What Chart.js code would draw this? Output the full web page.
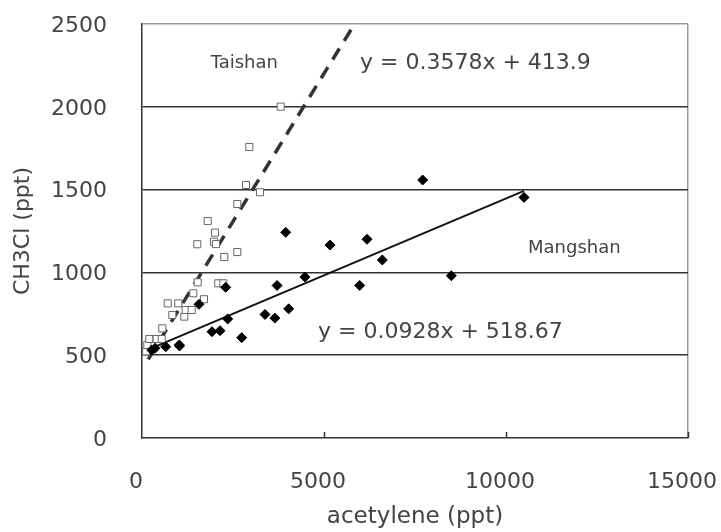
<!DOCTYPE html>
<html>
<head>
<meta charset="utf-8">
<script src="https://cdn.jsdelivr.net/npm/chart.js@4.4.1/dist/chart.umd.min.js"></script>
<style>
  body { margin: 0; background: #fff; }
  #wrap { width: 721px; height: 532px; }
</style>
</head>
<body>
<div id="wrap"><canvas id="chart" width="721" height="532"></canvas></div>
<script>
// Taishan (open squares)
const taishanX = [115, 146, 201, 403, 541, 558, 706, 833, 997, 1162, 1200, 1365, 1409, 1519, 1530, 1703, 1805, 1978, 2005, 2033, 2096, 2234, 2261, 2618, 2618, 2857, 2948, 3242, 3810];
const taishanY = [523, 562, 598, 598, 598, 662, 813, 743, 813, 733, 773, 773, 874, 1170, 940, 838, 1310, 1185, 1240, 1171, 934, 934, 1093, 1123, 1413, 1528, 1757, 1484, 2001];

// Mangshan (filled diamonds)
const mangshanX = [266, 357, 651, 1025, 1030, 1566, 1923, 2143, 2299, 2354, 2739, 3379, 3650, 3710, 3947, 4030, 4475, 5165, 5980, 6181, 6602, 7711, 8498, 10495];
const mangshanY = [531, 542, 551, 562, 556, 807, 642, 648, 910, 719, 606, 746, 724, 921, 1242, 780, 972, 1165, 921, 1200, 1075, 1558, 980, 1453];

// trend line ends (the dashed one runs past the top)
const taishanTrendX = [170, 5950];
const taishanTrendY = [475, 2540];
const mangshanTrendX = [266, 10495];
const mangshanTrendY = [543, 1492];

const xTicks = [0, 5000, 10000, 15000];
const yTicks = [0, 500, 1000, 1500, 2000, 2500];

const notes = [
  { text: 'Taishan', x: 1887, y: 2264, size: 18 },
  { text: 'y = 0.3578x + 413.9', x: 5989, y: 2264, size: 22 },
  { text: 'Mangshan', x: 10604, y: 1147, size: 18 },
  { text: 'y = 0.0928x + 518.67', x: 4835, y: 640, size: 22 }
];

const FONT = "'DejaVu Sans', sans-serif";
const TEXT = '#444';

const pts = (xs, ys) => xs.map((x, i) => ({ x: x, y: ys[i] }));

// small inward tick marks on the x axis + text notes
const extras = {
  id: 'extras',
  afterDraw(chart) {
    const { ctx, scales: { x, y } } = chart;
    ctx.save();
    ctx.strokeStyle = '#333';
    ctx.lineWidth = 1.5;
    xTicks.slice(1).forEach(v => {
      const px = Math.round(x.getPixelForValue(v)) + 0.5;
      ctx.beginPath();
      ctx.moveTo(px, y.bottom);
      ctx.lineTo(px, y.bottom - 6);
      ctx.stroke();
    });
    ctx.fillStyle = TEXT;
    ctx.textBaseline = 'middle';
    ctx.textAlign = 'left';
    notes.forEach(n => {
      ctx.font = n.size + 'px ' + FONT;
      ctx.fillText(n.text, x.getPixelForValue(n.x), y.getPixelForValue(n.y));
    });
    ctx.restore();
  }
};

new Chart(document.getElementById('chart'), {
  type: 'scatter',
  data: {
    datasets: [
      {
        label: 'Taishan trend',
        data: pts(taishanTrendX, taishanTrendY),
        showLine: true,
        borderColor: '#333',
        borderWidth: 3.5,
        borderDash: [13, 9],
        pointRadius: 0,
        order: 3
      },
      {
        label: 'Mangshan trend',
        data: pts(mangshanTrendX, mangshanTrendY),
        showLine: true,
        borderColor: '#111',
        borderWidth: 2,
        pointRadius: 0,
        order: 4
      },
      {
        label: 'Taishan',
        data: pts(taishanX, taishanY),
        pointStyle: 'rect',
        pointRadius: 5,
        borderColor: '#666',
        borderWidth: 1,
        backgroundColor: '#fff',
        order: 2
      },
      {
        label: 'Mangshan',
        data: pts(mangshanX, mangshanY),
        pointStyle: 'rectRot',
        pointRadius: 5,
        borderColor: '#000',
        borderWidth: 1,
        backgroundColor: '#000',
        order: 1
      }
    ]
  },
  options: {
    responsive: false,
    animation: false,
    events: [],
    layout: { padding: { left: 0, top: 24, right: 33, bottom: 0 } },
    plugins: {
      legend: { display: false },
      tooltip: { enabled: false }
    },
    scales: {
      x: {
        type: 'linear',
        min: 0,
        max: 15000,
        afterBuildTicks: s => { s.ticks = xTicks.map(v => ({ value: v })); },
        afterFit: s => { s.height = 94; s.paddingLeft = 0; s.paddingRight = 0; },
        ticks: {
          color: TEXT,
          font: { family: FONT, size: 22 },
          padding: 31,
          labelOffset: -6,
          maxRotation: 0,
          callback: v => String(v)
        },
        grid: {
          drawTicks: false,
          lineWidth: 1.5,
          color: c => c.tick && c.tick.value === 15000 ? '#999' : 'rgba(0,0,0,0)'
        },
        border: { color: '#333', width: 1.5 },
        title: {
          display: true,
          text: 'acetylene (ppt)',
          color: TEXT,
          font: { family: FONT, size: 23 },
          padding: { top: 0, bottom: 1 }
        }
      },
      y: {
        type: 'linear',
        min: 0,
        max: 2500,
        afterBuildTicks: s => { s.ticks = yTicks.map(v => ({ value: v })); },
        afterFit: s => { s.width = 142; s.paddingTop = 0; s.paddingBottom = 0; },
        ticks: {
          color: TEXT,
          font: { family: FONT, size: 22 },
          padding: 35,
          labelOffset: 2,
          callback: v => String(v)
        },
        grid: {
          drawTicks: false,
          lineWidth: 1.5,
          color: c => {
            const v = c.tick && c.tick.value;
            if (v === 0) return 'rgba(0,0,0,0)';
            if (v === 2500) return '#999';
            return '#333';
          }
        },
        border: { color: '#333', width: 1.5 },
        title: {
          display: true,
          text: 'CH3Cl (ppt)',
          color: TEXT,
          font: { family: FONT, size: 22 },
          padding: { top: 10, bottom: 0 }
        }
      }
    }
  },
  plugins: [extras]
});
</script>
</body>
</html>
